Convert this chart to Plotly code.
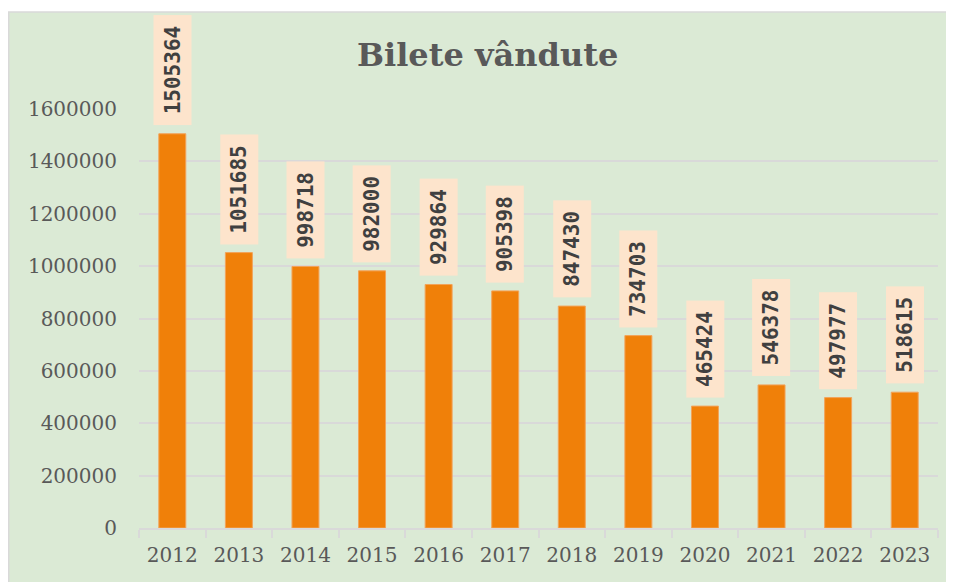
import plotly.graph_objects as go

years = ["2012", "2013", "2014", "2015", "2016", "2017", "2018", "2019", "2020", "2021", "2022", "2023"]
tickets = [1505364, 1051685, 998718, 982000, 929864, 905398, 847430, 734703, 465424, 546378, 497977, 518615]
y_ticks = [0, 200000, 400000, 600000, 800000, 1000000, 1200000, 1400000, 1600000]
title_text = "Bilete vândute"

GREEN = "#dbead5"
ORANGE = "#f08009"
PEACH = "#fde4cc"
GRID = "#d9d9d9"
TXT = "#595959"

# page body has an 8px margin, so the figure is drawn 8px smaller
W, H = 946, 574
L, R, T, B = 131, 16, 101, 54
pw, ph = W - L - R, H - T - B

fig = go.Figure()
fig.add_trace(go.Bar(
    x=years, y=tickets, marker=dict(color=ORANGE, line=dict(color="#f2a35a", width=1)),
    hoverinfo="x+y",
))

annotations = []
for i, v in enumerate(tickets):
    s = str(v)
    annotations.append(dict(
        x=i, y=v, xref="x", yref="y", text="<b>" + s + "</b>", showarrow=False,
        textangle=-90, yanchor="bottom", xanchor="center", yshift=8,
        bgcolor=PEACH, width=len(s) * 13 + 18, height=37,
        font=dict(family="DejaVu Sans Mono", size=21, color="#404040"),
        borderpad=0,
    ))

annotations.append(dict(
    text="<b>" + title_text + "</b>", xref="paper", yref="paper",
    x=(479.5 - L) / pw, y=(H - B - 47) / ph, xanchor="center", yanchor="middle",
    showarrow=False, font=dict(family="DejaVu Serif", size=32, color=TXT),
))

shapes = [dict(
    type="rect", xref="paper", yref="paper", layer="below",
    x0=(0.75 - L) / pw, x1=(W + 10 - L) / pw,
    y0=(H - B - (H + 10)) / ph, y1=(H - B - 4) / ph,
    fillcolor=GREEN, line=dict(color=GRID, width=1.5),
)]

fig.update_layout(
    width=W, height=H, autosize=False,
    margin=dict(l=L, r=R, t=T, b=B, pad=0),
    paper_bgcolor="white", plot_bgcolor="rgba(0,0,0,0)",
    bargap=0.595, showlegend=False,
    annotations=annotations, shapes=shapes,
    font=dict(family="DejaVu Serif", size=20, color=TXT),
)
fig.update_xaxes(
    type="category", categoryorder="array", categoryarray=years,
    range=[-0.5, len(years) - 0.5], autorange=False, automargin=False,
    tickson="boundaries", ticks="outside", ticklen=8, tickangle=0,
    ticklabelstandoff=8,
    tickcolor=GRID, tickwidth=1.5, showline=True, linecolor=GRID, linewidth=1.5,
    showgrid=False, tickfont=dict(family="DejaVu Serif", size=20, color=TXT),
)
fig.update_yaxes(
    range=[0, 1600000], autorange=False, automargin=False,
    tickvals=y_ticks, tickformat="d",
    showgrid=True, gridcolor=GRID, gridwidth=1.5, zeroline=False, showline=False,
    ticks="outside", ticklen=17, tickcolor="rgba(0,0,0,0)",
    tickfont=dict(family="DejaVu Serif", size=20, color=TXT),
)

fig.write_html("out.html")
